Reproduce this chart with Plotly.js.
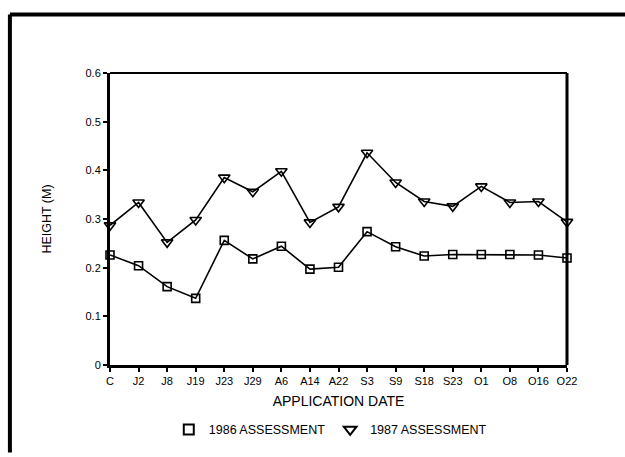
<!DOCTYPE html>
<html>
<head>
<meta charset="utf-8">
<script src="https://cdn.plot.ly/plotly-3.0.1.min.js"></script>
<style>
  html, body { margin: 0; padding: 0; background: #fff; }
  #chart { width: 625px; height: 457px; }
</style>
</head>
<body>
<div id="chart"></div>
<script>
// Application dates (categories)
const dates = ["C", "J2", "J8", "J19", "J23", "J29", "A6", "A14", "A22", "S3", "S9", "S18", "S23", "O1", "O8", "O16", "O22"];
// Height (m), 1986 assessment
const height1986 = [0.226, 0.204, 0.161, 0.137, 0.256, 0.218, 0.244, 0.197, 0.201, 0.274, 0.243, 0.224, 0.227, 0.227, 0.227, 0.226, 0.220];
// Height (m), 1987 assessment
const height1987 = [0.287, 0.334, 0.252, 0.298, 0.385, 0.356, 0.398, 0.293, 0.325, 0.436, 0.375, 0.336, 0.326, 0.367, 0.334, 0.336, 0.294];
const yTicks = [0, 0.1, 0.2, 0.3, 0.4, 0.5, 0.6];
const seriesNames = ["1986 ASSESSMENT", "1987 ASSESSMENT"];

const idx = dates.map((d, i) => i);
const FONT = "Liberation Sans, Arial, Helvetica, sans-serif";

const traces = [
  {
    x: idx, y: height1986, type: "scatter", mode: "lines+markers",
    line: { color: "#000", width: 1.6 },
    marker: { symbol: "square-open", size: 8, color: "#000", line: { width: 1.6, color: "#000" } },
    cliponaxis: false, showlegend: false, name: seriesNames[0]
  },
  {
    x: idx, y: height1987, type: "scatter", mode: "lines+markers",
    line: { color: "#000", width: 1.6 },
    marker: { symbol: "triangle-down-open", size: 10, color: "#000", line: { width: 1.6, color: "#000" } },
    cliponaxis: false, showlegend: false, name: seriesNames[1]
  },
  // legend-only entries (symbol without line, as in the reference)
  {
    x: [null], y: [null], type: "scatter", mode: "markers", name: seriesNames[0],
    marker: { symbol: "square-open", size: 10, color: "#000", line: { width: 2, color: "#000" } }
  },
  {
    x: [null], y: [null], type: "scatter", mode: "markers", name: seriesNames[1],
    marker: { symbol: "triangle-down-open", size: 11, color: "#000", line: { width: 2, color: "#000" } }
  }
];

const layout = {
  width: 625, height: 457,
  margin: { l: 110, r: 58, t: 73, b: 74 },
  paper_bgcolor: "#fff", plot_bgcolor: "#fff",
  font: { family: FONT, color: "#000", size: 11 },
  showlegend: true,
  legend: {
    orientation: "h", x: 0.482, xanchor: "center", y: -0.222, yanchor: "middle",
    font: { family: FONT, size: 12.5, color: "#000" }, itemwidth: 30, bgcolor: "rgba(0,0,0,0)"
  },
  xaxis: {
    range: [0, 16], tickmode: "array", tickvals: idx, ticktext: dates,
    showline: true, linecolor: "#000", linewidth: 3,
    ticks: "outside", ticklen: 4, tickwidth: 2, tickcolor: "#000",
    showgrid: false, zeroline: false, fixedrange: true,
    tickfont: { family: FONT, size: 11, color: "#000" },
    title: { text: "APPLICATION DATE", font: { family: FONT, size: 14, color: "#000" }, standoff: 10 }
  },
  yaxis: {
    range: [0, 0.6], tickmode: "array", tickvals: yTicks, ticktext: yTicks.map(v => v === 0 ? "0" : v.toFixed(1)),
    showline: true, linecolor: "#000", linewidth: 3,
    ticks: "outside", ticklen: 4, tickwidth: 2, tickcolor: "#000",
    showgrid: false, zeroline: false, fixedrange: true,
    tickfont: { family: FONT, size: 11, color: "#000" },
    title: { text: "HEIGHT (M)", font: { family: FONT, size: 12.5, color: "#000" }, standoff: 32 }
  },
  shapes: [
    // top and right frame of the plot area
    { type: "line", xref: "paper", yref: "paper", x0: 0, x1: 1, y0: 1, y1: 1, line: { color: "#000", width: 2 } },
    { type: "line", xref: "paper", yref: "paper", x0: 1, x1: 1, y0: 0, y1: 1, line: { color: "#000", width: 3 } },
    // outer page frame (top and left edges)
    { type: "line", xref: "paper", yref: "paper", x0: -0.219, x1: 1.2, y0: 1.2, y1: 1.2, line: { color: "#000", width: 4 } },
    { type: "line", xref: "paper", yref: "paper", x0: -0.219, x1: -0.219, y0: 1.2, y1: -0.3, line: { color: "#000", width: 4 } }
  ]
};

Plotly.newPlot("chart", traces, layout, { displayModeBar: false, staticPlot: true });
</script>
</body>
</html>
